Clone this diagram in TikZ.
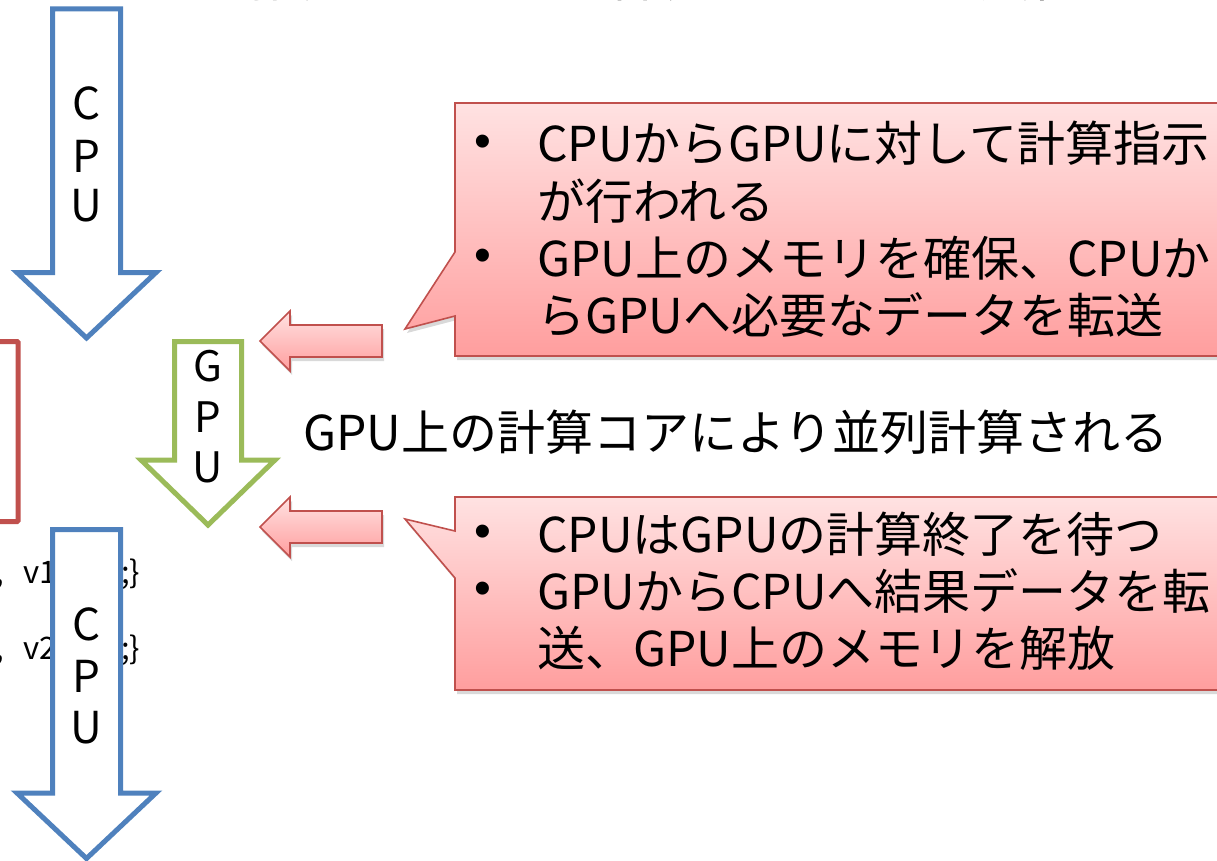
\documentclass[tikz,border=0pt]{standalone}
\usepackage{fontspec}
\newfontfamily\jp{Noto Sans CJK JP}
\newfontfamily\bulletfont{Liberation Sans}
\usetikzlibrary{shadows}

\definecolor{cpublue}{RGB}{79,129,189}
\definecolor{gpugreen}{RGB}{155,187,89}
\definecolor{accentred}{RGB}{192,80,77}
\definecolor{pinklight}{RGB}{255,226,226}
\definecolor{pinkdark}{RGB}{255,158,158}

\tikzset{
  blockarrow/.style={line width=5pt, fill=white, line join=miter},
  pinkshape/.style={draw=accentred, line width=1.6pt, top color=pinklight, bottom color=pinkdark,
    drop shadow={shadow xshift=2pt, shadow yshift=-4pt, opacity=0.3}},
  txt/.style={inner sep=0pt, font=\jp\fontsize{48}{57}\selectfont},
  arrowletter/.style={inner sep=0pt, anchor=base, font=\jp\fontsize{44}{50}\selectfont},
  gpuletter/.style={inner sep=0pt, anchor=base, font=\jp\fontsize{42}{50}\selectfont},
  codetxt/.style={inner sep=0pt, font=\jp\fontsize{31}{36}\selectfont},
  bulletmark/.style={inner sep=0pt, font=\bulletfont\fontsize{48}{54}\selectfont},
}

\begin{document}
\begin{tikzpicture}[x=1pt, y=-1pt]
\useasboundingbox (0,0) rectangle (1217,861);
\clip (0,0) rectangle (1217,861);

% heading line running off the top edge
\node[txt, anchor=base west, font=\jp\fontsize{52}{60}\selectfont] (heading) at (250,-3)
  {指定されている部分はGPU上で実行される};

% kernel region frame on the left
\draw[accentred, line width=5pt, rounded corners=1pt] (-60,341.5) rectangle (18,521.5);

% source lines partly hidden behind the lower CPU arrow
\node[codetxt, anchor=base west] (commaA) at (-4.5,583) {,};
\node[codetxt, anchor=base west] (codeA) at (23,583) {v1};
\node[codetxt, anchor=base west] (codeAend) at (121,583) {;\}};
\node[codetxt, anchor=base west] (commaB) at (-4.5,659) {,};
\node[codetxt, anchor=base west] (codeB) at (23,659) {v2};
\node[codetxt, anchor=base west] (codeBend) at (121,659) {;\}};

% upper CPU arrow
\draw[blockarrow, draw=cpublue]
  (52.5,9) -- (120.5,9) -- (120.5,272.5) -- (156,272.5) -- (86.5,338)
  -- (17,272.5) -- (52.5,272.5) -- cycle;
\node[arrowletter] (cpuC1) at (86.5,120) {C};
\node[arrowletter] (cpuP1) at (86.5,172) {P};
\node[arrowletter] (cpuU1) at (86.5,222) {U};

% lower CPU arrow
\draw[blockarrow, draw=cpublue]
  (52.5,529.5) -- (120.5,529.5) -- (120.5,793) -- (156,793) -- (86.5,858.5)
  -- (17,793) -- (52.5,793) -- cycle;
\node[arrowletter] (cpuC2) at (86.5,640) {C};
\node[arrowletter] (cpuP2) at (86.5,692) {P};
\node[arrowletter] (cpuU2) at (86.5,743) {U};

% GPU arrow
\draw[blockarrow, draw=gpugreen]
  (174.5,341.5) -- (241.5,341.5) -- (241.5,460) -- (275,460) -- (208,525)
  -- (141,460) -- (174.5,460) -- cycle;
\node[gpuletter] (gpuG) at (208,381) {G};
\node[gpuletter] (gpuP) at (208,432) {P};
\node[gpuletter] (gpuU) at (208,482) {U};

% pink arrows pointing back to the GPU step
\path[pinkshape]
  (382,325) -- (290,325) -- (290,311) -- (260,341) -- (290,371) -- (290,357) -- (382,357) -- cycle;
\path[pinkshape]
  (382,511) -- (290,511) -- (290,497) -- (260,527) -- (290,557) -- (290,543) -- (382,543) -- cycle;

% upper callout
\path[pinkshape]
  (455,103) -- (1250,103) -- (1250,356) -- (455,356) -- (455,316)
  -- (405,329) -- (455,252) -- cycle;
\node[bulletmark] (b1) at (483,146) {•};
\node[txt, anchor=base west] (t1a) at (537,162) {CPUからGPUに対して計算指示};
\node[txt, anchor=base west] (t1b) at (537,219) {が行われる};
\node[bulletmark] (b2) at (483,260) {•};
\node[txt, anchor=base west] (t1c) at (537,276) {GPU上のメモリを確保、CPUか};
\node[txt, anchor=base west] (t1d) at (537,333) {らGPUへ必要なデータを転送};

% middle caption
\node[txt, anchor=base west] (middle) at (303,450) {GPU上の計算コアにより並列計算される};

% lower callout
\path[pinkshape]
  (455,497) -- (1250,497) -- (1250,690) -- (455,690) -- (455,578)
  -- (405,519) -- (455,531) -- cycle;
\node[bulletmark] (b3) at (483,536) {•};
\node[txt, anchor=base west] (t2a) at (537,552) {CPUはGPUの計算終了を待つ};
\node[bulletmark] (b4) at (483,593) {•};
\node[txt, anchor=base west] (t2b) at (537,609) {GPUからCPUへ結果データを転};
\node[txt, anchor=base west] (t2c) at (537,666) {送、GPU上のメモリを解放};
\end{tikzpicture}
\end{document}
